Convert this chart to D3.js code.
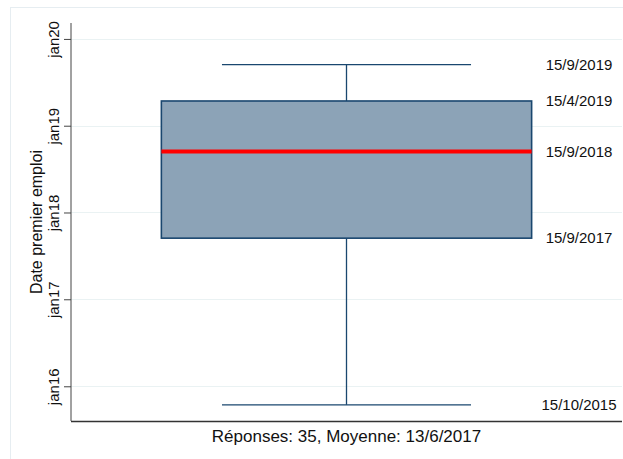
<!DOCTYPE html>
<html><head><meta charset="utf-8">
<script src="https://cdn.jsdelivr.net/npm/d3@7"></script>
<style>
html,body{margin:0;padding:0;background:#fff;}
svg{display:block;}
text{font-family:"Liberation Sans",Arial,sans-serif;fill:#111;}
</style></head>
<body>
<script>
// --- data ---
const groups = [""];
const statNames = ["min", "q1", "median", "q3", "max"];
const statLabels = ["15/10/2015", "15/9/2017", "15/9/2018", "15/4/2019", "15/9/2019"];
const tickLabels = ["jan16", "jan17", "jan18", "jan19", "jan20"];
const tickYears = [2016, 2017, 2018, 2019, 2020];
const axisRange = ["8/8/2015", "8/3/2020"];
const yTitle = "Date premier emploi";
const xNote = "Réponses: 35, Moyenne: 13/6/2017";

const parse = d3.utcParse("%d/%m/%Y");
const statValues = statLabels.map(parse);
const stats = Object.fromEntries(statNames.map((n, i) => [n, statValues[i]]));

const W = 623, H = 459;
const plot = {left: 71, right: 622, top: 23, bottom: 421};

const svg = d3.select("body").append("svg").attr("width", W).attr("height", H);

// outer border (cropped)
svg.append("rect").attr("x", 10.5).attr("y", 7.5).attr("width", 630).attr("height", 470)
  .attr("fill", "none").attr("stroke", "#e6edf1").attr("stroke-width", 1);

const y = d3.scaleUtc().domain(axisRange.map(parse)).range([plot.bottom, plot.top]);
const x = d3.scaleBand().domain(groups).range([plot.left, plot.right]);
const cx = x("") + x.bandwidth() / 2;
const boxW = x.bandwidth() * 0.672;
const capW = x.bandwidth() * 0.452;

const tickDates = tickYears.map(yr => new Date(Date.UTC(yr, 0, 1)));

// gridlines
svg.append("g").selectAll("line").data(tickDates).join("line")
  .attr("x1", plot.left).attr("x2", plot.right)
  .attr("y1", d => Math.round(y(d)) + 0.5).attr("y2", d => Math.round(y(d)) + 0.5)
  .attr("stroke", "#eaf2f3").attr("stroke-width", 1);

// y axis
const yAxis = d3.axisLeft(y).tickValues(tickDates).tickFormat((d, i) => tickLabels[i]).tickSize(7).tickPadding(3);
const gy = svg.append("g").attr("transform", `translate(${plot.left},0)`).call(yAxis);
gy.select(".domain").attr("stroke", "#444").attr("d", `M0,${plot.top}V${plot.bottom}`);
gy.selectAll(".tick line").attr("stroke", "#444");
gy.selectAll(".tick text")
  .attr("font-size", 15).attr("x", null).attr("dy", null)
  .attr("transform", "translate(-12,0) rotate(-90)")
  .attr("text-anchor", "middle").attr("font-family", "Liberation Sans, Arial, sans-serif").attr("fill", "#111");

// x axis line
svg.append("line").attr("x1", plot.left).attr("x2", plot.right)
  .attr("y1", plot.bottom + 0.5).attr("y2", plot.bottom + 0.5)
  .attr("stroke", "#333").attr("stroke-width", 1.3);

const boxColor = "#1a476f";
// whiskers
svg.append("line").attr("x1", cx).attr("x2", cx).attr("y1", y(stats.max)).attr("y2", y(stats.q3))
  .attr("stroke", boxColor).attr("stroke-width", 1.3);
svg.append("line").attr("x1", cx).attr("x2", cx).attr("y1", y(stats.q1)).attr("y2", y(stats.min))
  .attr("stroke", boxColor).attr("stroke-width", 1.3);
svg.append("g").selectAll("line").data([stats.min, stats.max]).join("line")
  .attr("x1", cx - capW / 2).attr("x2", cx + capW / 2)
  .attr("y1", d => y(d)).attr("y2", d => y(d))
  .attr("stroke", boxColor).attr("stroke-width", 1.3);

// box
svg.append("rect").attr("x", cx - boxW / 2).attr("width", boxW)
  .attr("y", y(stats.q3)).attr("height", y(stats.q1) - y(stats.q3))
  .attr("fill", "#8ca3b7").attr("stroke", boxColor).attr("stroke-width", 1.6);

// median
svg.append("line").attr("x1", cx - boxW / 2).attr("x2", cx + boxW / 2)
  .attr("y1", y(stats.median)).attr("y2", y(stats.median))
  .attr("stroke", "#ff0000").attr("stroke-width", 4);

// stat labels
svg.append("g").selectAll("text").data(statNames).join("text")
  .attr("x", 579).attr("y", d => y(stats[d]))
  .attr("dy", "0.35em").attr("text-anchor", "middle").attr("font-size", 15)
  .text((d, i) => statLabels[i]);

// y title
svg.append("text").attr("transform", `translate(42,${(plot.top + plot.bottom) / 2}) rotate(-90)`)
  .attr("text-anchor", "middle").attr("font-size", 16).text(yTitle);

// x note
svg.append("text").attr("x", cx).attr("y", 442).attr("text-anchor", "middle")
  .attr("font-size", 17).text(xNote);
</script>
</body></html>
